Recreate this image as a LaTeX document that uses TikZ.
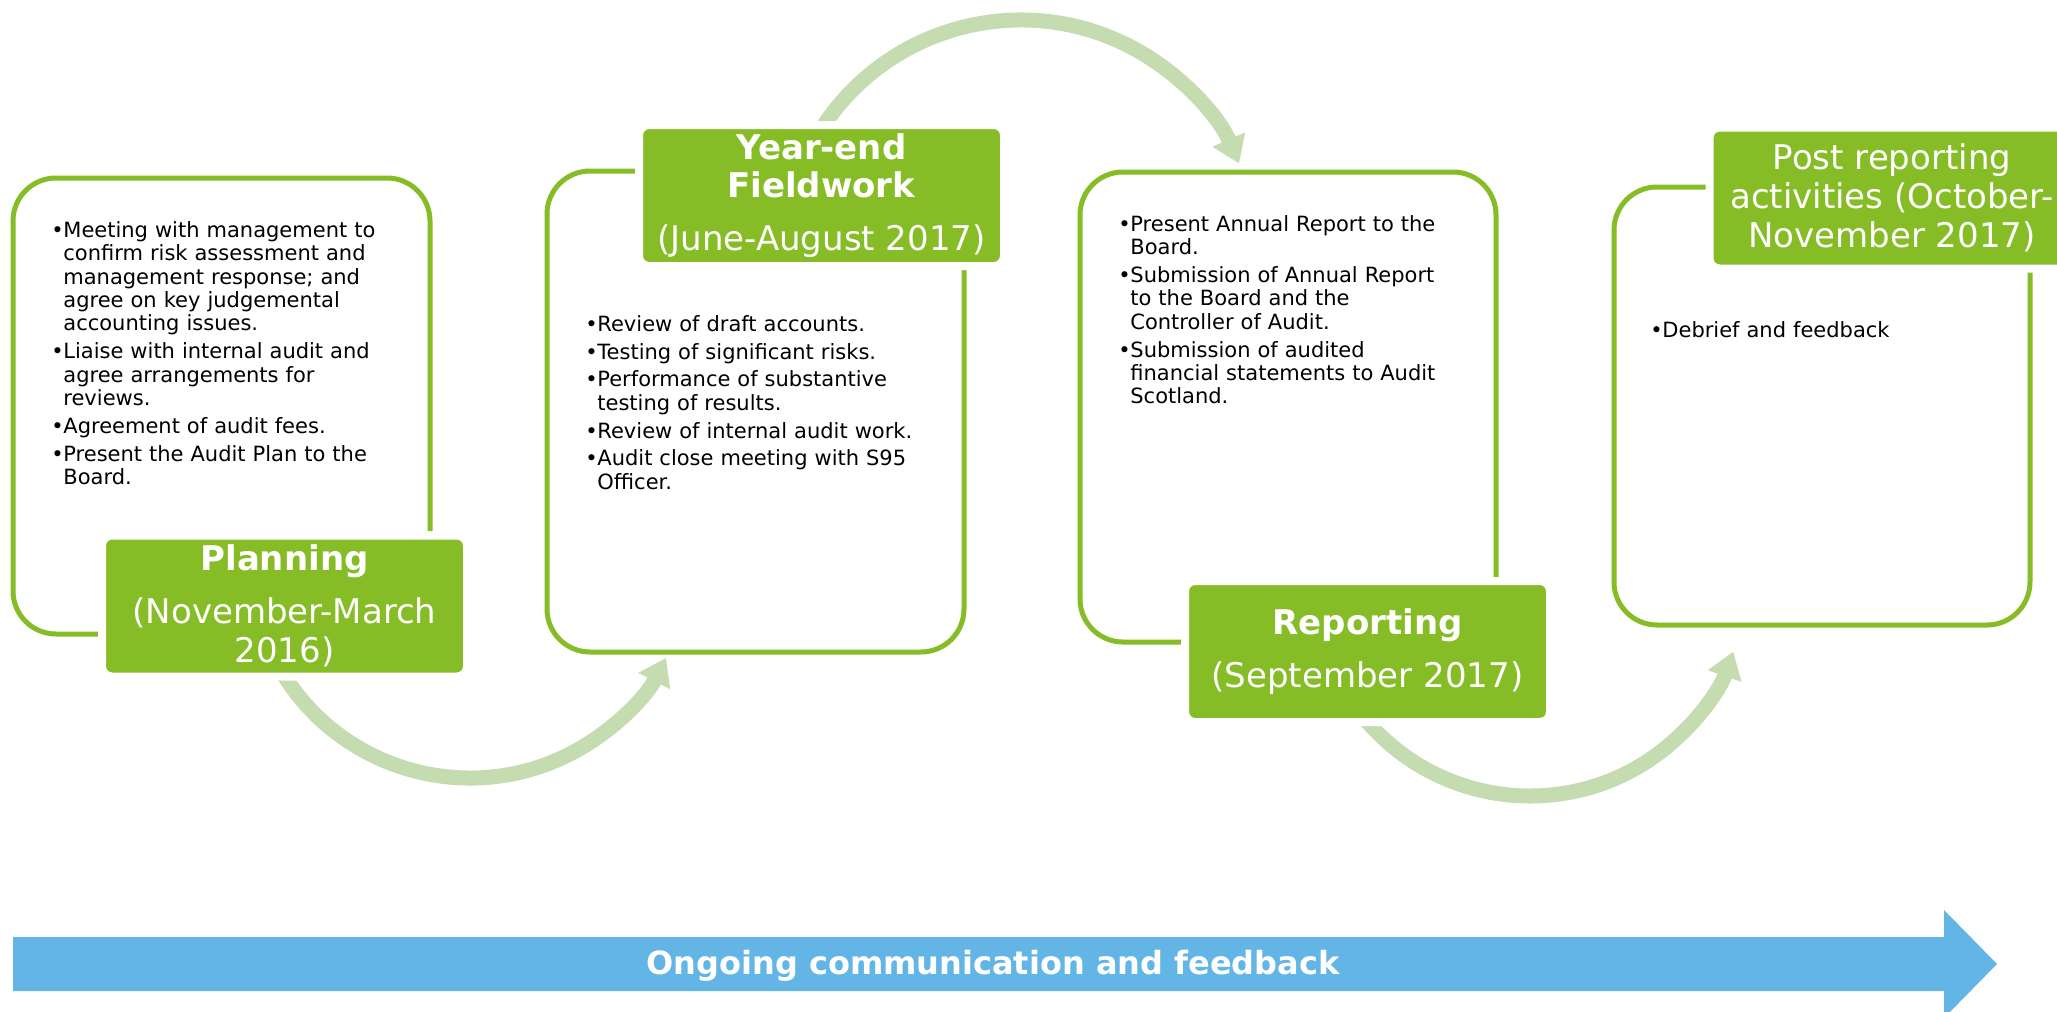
\documentclass[tikz,border=0pt]{standalone}
\usepackage{fontspec}
\setmainfont{DejaVu Sans}
\usetikzlibrary{arrows.meta}

\definecolor{leafgreen}{HTML}{86BC25}
\definecolor{palegreen}{HTML}{C5DCB0}
\definecolor{skyblue}{HTML}{62B5E5}

\newcommand\bitem{\par\noindent\hangindent=6pt\hangafter=1\makebox[6pt][l]{•}}

\tikzset{
  phasebox/.style={draw=leafgreen, line width=2.5pt, rounded corners=21.5pt},
  phaselabel/.style={fill=leafgreen, draw=white, line width=4pt, rounded corners=5pt,
    minimum width=182.5pt, minimum height=70.5pt, inner sep=0pt, text=white,
    align=center, font=\fontsize{17}{19.4}\selectfont},
  bodytext/.style={inner sep=0pt, anchor=north west, text width=170pt, align=left,
    font=\fontsize{10.5}{11.7}\selectfont,
    execute at begin node={\setlength\parskip{2.2pt}}},
  cyclearrow/.style={draw=palegreen, line width=7.5pt,
    -{Triangle[width=17pt,length=13pt]}}
}

\begin{document}
\begin{tikzpicture}[x=0.5pt,y=-0.5pt]
\useasboundingbox (0,0) rectangle (2057,1012);
\clip (0,0) rectangle (2057,1012);

% cadres des phases
\draw[phasebox] (430,531) -- (430,178) -- (13,178) -- (13,634) -- (98,634);
\draw[phasebox] (635,171) -- (547,171) -- (547,652) -- (964,652) -- (964,270);
\draw[phasebox] (1496,577) -- (1496,172) -- (1080,172) -- (1080,642) -- (1182,642);
\draw[phasebox] (1706,187) -- (1614,187) -- (1614,625) -- (2030,625) -- (2030,272);

% fleches entre les phases
\coordinate (c1) at (470,558);
\coordinate (c2) at (1021,257.4);
\coordinate (c3) at (1530,580.8);
\draw[cyclearrow] (c1) ++(150:220) arc[start angle=150, end angle=27, radius=220];
\draw[cyclearrow] (c2) ++(210:237.4) arc[start angle=210, end angle=336.7, radius=237.4];
\draw[cyclearrow] (c3) ++(142:215.2) arc[start angle=142, end angle=19.2, radius=215.2];

\node[phaselabel] (plan) at (284.5,606) {\textbf{Planning}\\[7pt](November-March\\2016)};
\node[phaselabel] (field) at (821.5,195.5) {\textbf{Year-end}\\\textbf{Fieldwork}\\[7pt](June-August 2017)};
\node[phaselabel] (report) at (1367.5,651.5) {\textbf{Reporting}\\[7pt](September 2017)};
\node[phaselabel] (post) at (1892,198) {Post reporting\\activities (October-\\November 2017)};

\node[bodytext] (plantext) at (51,209) {%
\bitem Meeting with management to\newline confirm risk assessment and\newline management response; and\newline agree on key judgemental\newline accounting issues.
\bitem Liaise with internal audit and\newline agree arrangements for\newline reviews.
\bitem Agreement of audit fees.
\bitem Present the Audit Plan to the\newline Board.\par};
\node[bodytext] (fieldtext) at (585,303) {%
\bitem Review of draft accounts.
\bitem Testing of significant risks.
\bitem Performance of substantive\newline testing of results.
\bitem Review of internal audit work.
\bitem Audit close meeting with S95\newline Officer.\par};
\node[bodytext] (reporttext) at (1118,203) {%
\bitem Present Annual Report to the\newline Board.
\bitem Submission of Annual Report\newline to the Board and the\newline Controller of Audit.
\bitem Submission of audited\newline financial statements to Audit\newline Scotland.\par};
\node[bodytext] (posttext) at (1650,309) {%
\bitem Debrief and feedback\par};

% bandeau du bas
\fill[skyblue] (13,937) -- (1944,937) -- (1944,910) -- (1997,964) -- (1944,1018)
  -- (1944,991) -- (13,991) -- cycle;
\node[text=white, anchor=base, font=\bfseries\fontsize{16}{19}\selectfont] (comm)
  at (993,974) {Ongoing communication and feedback};
\end{tikzpicture}
\end{document}
